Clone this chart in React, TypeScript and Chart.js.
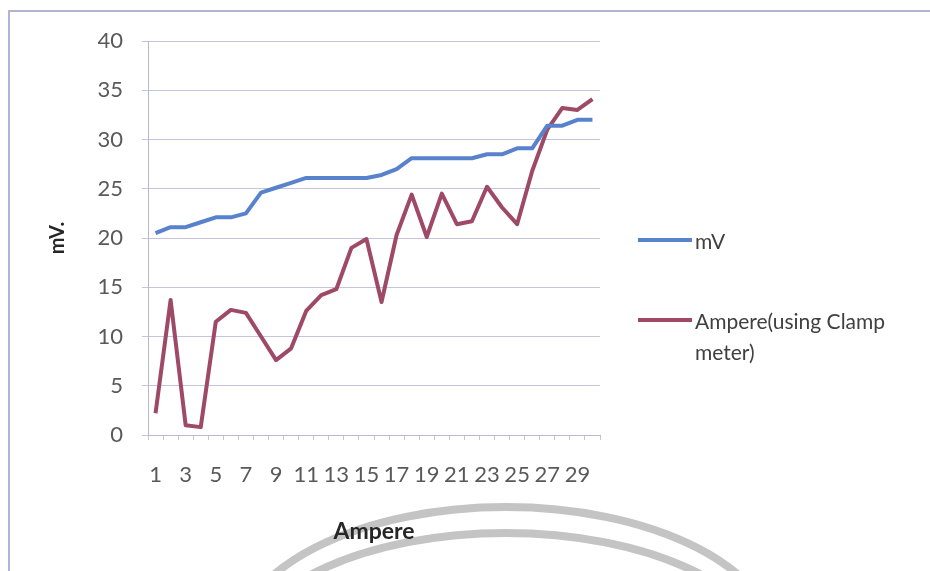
import React, { useEffect, useRef } from "react";
import { Chart, registerables } from "chart.js";

Chart.register(...registerables);

const categories: string[] = Array.from({ length: 30 }, (_, i) => String(i + 1));

const mvValues: number[] = [
  20.5, 21.1, 21.1, 21.6, 22.1, 22.1, 22.5, 24.6, 25.1, 25.6,
  26.1, 26.1, 26.1, 26.1, 26.1, 26.4, 27.0, 28.1, 28.1, 28.1,
  28.1, 28.1, 28.5, 28.5, 29.1, 29.1, 31.4, 31.4, 32.0, 32.0,
];

const ampereValues: number[] = [
  2.2, 13.7, 1.0, 0.8, 11.5, 12.7, 12.4, 10.0, 7.6, 8.8,
  12.6, 14.2, 14.8, 19.0, 19.9, 13.5, 20.3, 24.4, 20.1, 24.5,
  21.4, 21.7, 25.2, 23.1, 21.4, 26.8, 31.0, 33.2, 33.0, 34.1,
];

const seriesNames: string[] = ["mV", "Ampere(using Clamp meter)"];
const seriesColors: string[] = ["#5882cc", "#9e4a66"];
const yTitle = "mV.";
const xTitle = "Ampere";

const FONT = "Lato, 'Open Sans', 'DejaVu Sans', sans-serif";

const frameAndWatermark = {
  id: "frameAndWatermark",
  beforeDraw(chart: any) {
    const ctx = chart.ctx;
    ctx.save();
    ctx.fillStyle = "#ffffff";
    ctx.fillRect(0, 0, chart.width, chart.height);
    // watermark arcs
    ctx.strokeStyle = "#c4c4c4";
    ctx.lineWidth = 8;
    ctx.beginPath();
    ctx.ellipse(506, 647, 271, 140, 0, Math.PI, 2 * Math.PI);
    ctx.stroke();
    ctx.beginPath();
    ctx.ellipse(506, 663, 266, 130, 0, Math.PI, 2 * Math.PI);
    ctx.stroke();
    // outer frame
    ctx.strokeStyle = "#b3b3d6";
    ctx.lineWidth = 2;
    ctx.strokeRect(9, 11, 1000, 1000);
    ctx.restore();
  },
};

const sideLegend = {
  id: "sideLegend",
  afterDraw(chart: any, _args: any, opts: any) {
    const ctx = chart.ctx;
    ctx.save();
    ctx.font = `${opts.fontSize}px ${FONT}`;
    ctx.textBaseline = "middle";
    ctx.textAlign = "left";
    chart.data.datasets.forEach((ds: any, i: number) => {
      const y = opts.ys[i];
      ctx.strokeStyle = ds.borderColor;
      ctx.lineWidth = 4;
      ctx.beginPath();
      ctx.moveTo(opts.x, y);
      ctx.lineTo(opts.x + opts.lineLen, y);
      ctx.stroke();
      const tx = opts.x + opts.lineLen + 3;
      const maxW = chart.width - tx - 8;
      const words = String(ds.label).split(" ");
      const lines: string[] = [];
      let cur = "";
      words.forEach((w) => {
        const test = cur ? cur + " " + w : w;
        if (ctx.measureText(test).width > maxW && cur) {
          lines.push(cur);
          cur = w;
        } else cur = test;
      });
      if (cur) lines.push(cur);
      ctx.fillStyle = "#404040";
      lines.forEach((ln, k) => ctx.fillText(ln, tx, y + 2 + k * opts.lineHeight));
    });
    ctx.restore();
  },
};

export default function App() {
  const ref = useRef<HTMLCanvasElement | null>(null);

  useEffect(() => {
    if (!ref.current) return;
    const chart = new Chart(ref.current, {
      type: "line",
      data: {
        labels: categories,
        datasets: [
          {
            label: seriesNames[0],
            data: mvValues,
            borderColor: seriesColors[0],
            backgroundColor: seriesColors[0],
            borderWidth: 4,
            pointRadius: 0,
            tension: 0,
            borderJoinStyle: "round",
          },
          {
            label: seriesNames[1],
            data: ampereValues,
            borderColor: seriesColors[1],
            backgroundColor: seriesColors[1],
            borderWidth: 4,
            pointRadius: 0,
            tension: 0,
            borderJoinStyle: "round",
          },
        ],
      },
      options: {
        animation: false,
        responsive: false,
        layout: { padding: { left: 0, top: 41, right: 330, bottom: 0 } },
        plugins: {
          legend: { display: false },
          tooltip: { enabled: false },
          sideLegend: { x: 638, lineLen: 54, ys: [240, 320], lineHeight: 31, fontSize: 21 },
        } as any,
        scales: {
          x: {
            offset: true,
            grid: {
              offset: true,
              drawOnChartArea: false,
              drawTicks: true,
              tickLength: 5,
              color: "#c4c4dc",
            },
            border: { color: "#b8b8d4", width: 1 },
            ticks: {
              autoSkip: false,
              maxRotation: 0,
              minRotation: 0,
              padding: 22,
              color: "#595959",
              font: { family: FONT, size: 22 },
              callback: (_v: any, idx: number) => (idx % 2 === 0 ? categories[idx] : ""),
            },
            title: {
              display: true,
              text: xTitle,
              color: "#262626",
              font: { family: FONT, size: 23, weight: "bold" },
              padding: { top: 0, bottom: 26 },
            },
            afterFit: (scale: any) => {
              scale.height = 136;
            },
          },
          y: {
            min: 0,
            max: 40,
            ticks: {
              stepSize: 5,
              padding: 19,
              color: "#595959",
              font: { family: FONT, size: 22 },
            },
            grid: {
              color: "#c4c4dc",
              tickLength: 6,
              lineWidth: 1,
            },
            border: { color: "#b8b8d4", width: 1 },
            title: {
              display: true,
              text: yTitle,
              color: "#262626",
              font: { family: FONT, size: 20, weight: "bold" },
              padding: { top: 46, bottom: 0 },
            },
            afterFit: (scale: any) => {
              scale.width = 148;
            },
          },
        },
      },
      plugins: [frameAndWatermark, sideLegend],
    } as any);
    return () => chart.destroy();
  }, []);

  return (
    <div style={{ position: "fixed", left: 0, top: 0, width: 930, height: 571, background: "#fff" }}>
      <canvas ref={ref} width={930} height={571} style={{ display: "block" }} />
    </div>
  );
}
